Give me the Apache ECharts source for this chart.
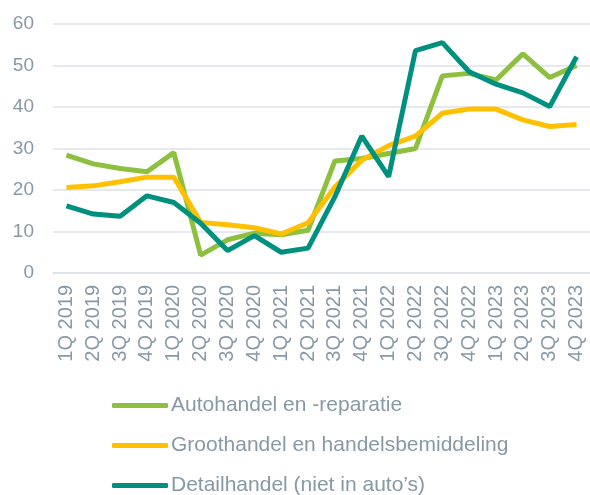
<!DOCTYPE html>
<html>
<head>
<meta charset="utf-8">
<script src="https://cdn.jsdelivr.net/npm/echarts@6/dist/echarts.min.js"></script>
<style>
  html, body { margin: 0; padding: 0; background: #fff; }
  #chart { width: 590px; height: 495px; }
</style>
</head>
<body>
<div id="chart"></div>
<script>
  // kwartalen
  var quarters = ['1Q 2019', '2Q 2019', '3Q 2019', '4Q 2019', '1Q 2020', '2Q 2020', '3Q 2020', '4Q 2020',
    '1Q 2021', '2Q 2021', '3Q 2021', '4Q 2021', '1Q 2022', '2Q 2022', '3Q 2022', '4Q 2022',
    '1Q 2023', '2Q 2023', '3Q 2023', '4Q 2023'];

  var autohandel = [28.4, 26.3, 25.2, 24.4, 29.0, 4.3, 8.0, 9.6, 9.2, 10.3, 27.0, 27.6, 28.8, 30.0,
    47.5, 48.1, 46.5, 52.8, 47.1, 50.0];
  var groothandel = [20.6, 21.0, 22.0, 23.1, 23.1, 12.2, 11.6, 10.9, 9.4, 12.1, 20.7, 27.2, 30.7, 33.0,
    38.5, 39.5, 39.5, 36.9, 35.3, 35.8];
  var detailhandel = [16.2, 14.2, 13.7, 18.6, 17.0, 12.0, 5.4, 9.0, 5.0, 6.0, 18.4, 33.0, 23.2, 53.6,
    55.5, 48.5, 45.5, 43.4, 40.1, 52.1];

  var seriesNames = ['Autohandel en -reparatie', 'Groothandel en handelsbemiddeling', 'Detailhandel (niet in auto\u2019s)'];
  var colors = ['#8DC03F', '#FFC000', '#00907F'];

  var labelColor = '#8799A5';
  var gridColor = '#DEE2E7';

  function makeLine(name, data, color) {
    return {
      name: name,
      type: 'line',
      data: data,
      symbol: 'none',
      lineStyle: { color: color, width: 5 },
      itemStyle: { color: color }
    };
  }

  var chart = echarts.init(document.getElementById('chart'));
  var option = {
    animation: false,
    color: colors,
    grid: { left: 53, top: 24, width: 545, height: 249 },
    xAxis: {
      type: 'category',
      data: quarters,
      boundaryGap: true,
      axisLine: { lineStyle: { color: gridColor, width: 1.5 } },
      axisTick: { show: false },
      axisLabel: {
        rotate: 90,
        margin: 12,
        interval: 0,
        color: labelColor,
        fontSize: 20,
        fontFamily: 'Liberation Sans'
      }
    },
    yAxis: {
      type: 'value',
      min: 0,
      max: 60,
      interval: 10,
      axisLine: { show: false },
      axisTick: { show: false },
      splitLine: { lineStyle: { color: gridColor, width: 1.5 } },
      axisLabel: {
        margin: 19,
        color: labelColor,
        fontSize: 19,
        fontFamily: 'Liberation Sans'
      }
    },
    legend: {
      orient: 'vertical',
      left: 112,
      top: 395,
      padding: 0,
      height: 110,
      itemWidth: 56,
      itemHeight: 5,
      itemGap: 19,
      icon: 'roundRect',
      textStyle: {
        color: labelColor,
        fontSize: 21,
        lineHeight: 21,
        padding: [0, 0, 0, -2],
        fontFamily: 'Liberation Sans'
      },
      data: seriesNames
    },
    series: [
      makeLine(seriesNames[0], autohandel, colors[0]),
      makeLine(seriesNames[1], groothandel, colors[1]),
      makeLine(seriesNames[2], detailhandel, colors[2])
    ]
  };
  chart.setOption(option);
</script>
</body>
</html>
